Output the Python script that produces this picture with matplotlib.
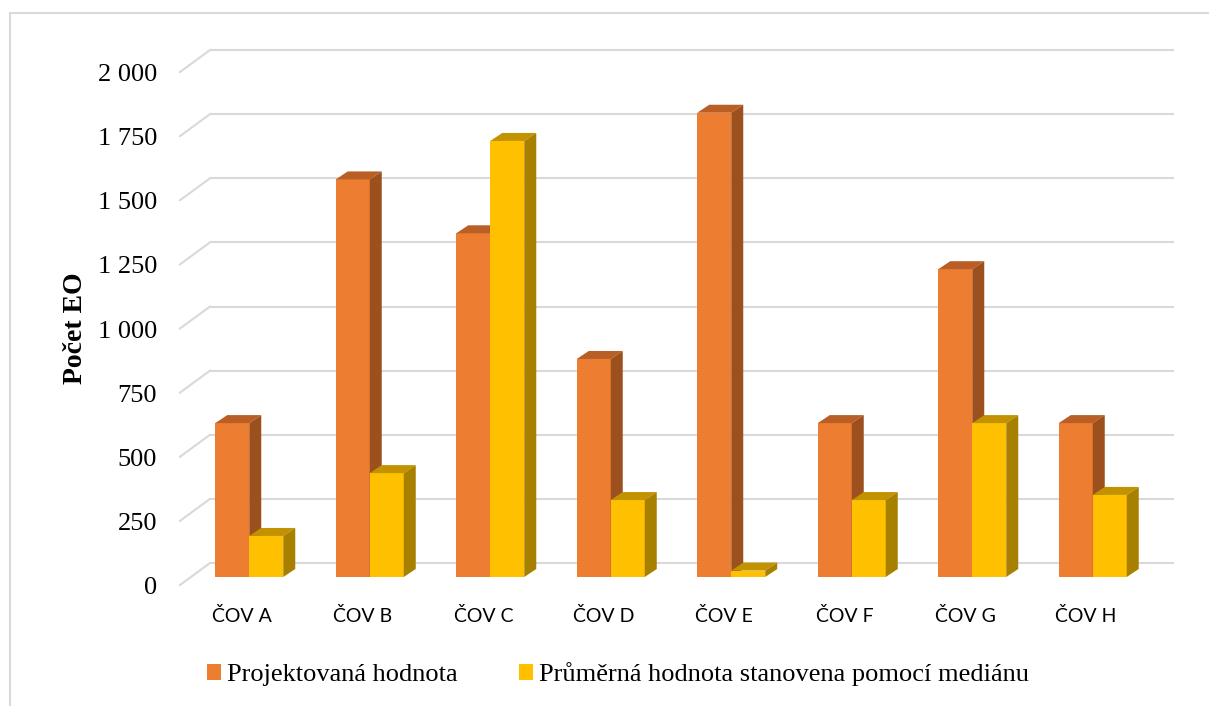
import matplotlib
matplotlib.use("Agg")
import matplotlib.pyplot as plt
from matplotlib.patches import Polygon, Rectangle, Patch

# Data
categories = ["ČOV A", "ČOV B", "ČOV C", "ČOV D", "ČOV E", "ČOV F", "ČOV G", "ČOV H"]
projected = [600, 1550, 1340, 850, 1810, 600, 1200, 600]
median_avg = [160, 405, 1700, 300, 25, 300, 600, 320]
series_names = ["Projektovaná hodnota", "Průměrná hodnota stanovena pomocí mediánu"]
y_ticks = [0, 250, 500, 750, 1000, 1250, 1500, 1750, 2000]
y_label = "Počet EO"

# Colours: front, top and side faces of each 3-D column
orange = ("#ED7D31", "#B95F26", "#9C501E")
yellow = ("#FFC000", "#C29200", "#A88000")
grid_col = "#D9D9D9"

SERIF = "Liberation Serif"
SANS = "Lato"

W_PX, H_PX = 1209, 706
fig = plt.figure(figsize=(W_PX / 100, H_PX / 100), dpi=100)

# plot area (front plane of the columns), in pixels
left_px, right_px, base_px, top_px = 189, 1153, 577, 64
ax = fig.add_axes([left_px / W_PX, (H_PX - base_px) / H_PX,
                   (right_px - left_px) / W_PX, (base_px - top_px) / H_PX])
ax.set_xlim(-0.5, len(categories) - 0.5)
ax.set_ylim(0, 2000)
ax.axis("off")

# pixel -> data unit conversion
ux = (len(categories)) / (right_px - left_px)
uy = 2000 / (base_px - top_px)

# depth offsets (pixels)
back_dx, back_dy = 21, 14      # back wall relative to column front plane
front_dx, front_dy = -9, -8    # front floor edge relative to column front plane
bar_dx, bar_dy = 12, 8         # column depth

x0 = -0.5
x1 = len(categories) - 0.5

# gridlines on the back wall and the left side wall
for v in y_ticks:
    ax.plot([x0 + back_dx * ux, x1 + back_dx * ux], [v + back_dy * uy] * 2,
            color=grid_col, lw=1.5, clip_on=False, zorder=1, solid_capstyle="butt")
    ax.plot([x0 + front_dx * ux, x0 + back_dx * ux],
            [v + front_dy * uy, v + back_dy * uy],
            color=grid_col, lw=1.5, clip_on=False, zorder=1)
    ax.text(x0 - 32 * ux, v + (front_dy - 3) * uy, f"{v:,}".replace(",", " "),
            ha="right", va="center", fontsize=19, family=SERIF, color="#000000")

bw = 34 * ux
ddx, ddy = bar_dx * ux, bar_dy * uy


def column(xl, h, cols, z):
    front, top, side = cols
    ax.add_patch(Rectangle((xl, 0), bw, h, facecolor=front, edgecolor="none",
                           zorder=z, clip_on=False))
    ax.add_patch(Polygon([(xl, h), (xl + bw, h), (xl + bw + ddx, h + ddy), (xl + ddx, h + ddy)],
                         closed=True, facecolor=top, edgecolor="none", zorder=z, clip_on=False))
    ax.add_patch(Polygon([(xl + bw, 0), (xl + bw + ddx, ddy), (xl + bw + ddx, h + ddy), (xl + bw, h)],
                         closed=True, facecolor=side, edgecolor="none", zorder=z, clip_on=False))


for i, (p, m) in enumerate(zip(projected, median_avg)):
    column(i - bw, p, orange, 3 + 2 * i)
    column(i, m, yellow, 4 + 2 * i)
    ax.text(i + (front_dx + 2) * ux, -39 * uy, categories[i], ha="center", va="center",
            fontsize=14, family=SANS, color="#000000")

# axis title
fig.text(75 / W_PX, 1 - 328 / H_PX, y_label, rotation=90, ha="center", va="center",
         fontsize=20, fontweight="bold", family=SERIF)

# legend
handles = [Patch(facecolor=orange[0]), Patch(facecolor=yellow[0])]
fig.legend(handles, series_names, loc="center", bbox_to_anchor=(618 / W_PX, 1 - 674 / H_PX),
           ncol=2, frameon=False, prop={"family": SERIF, "size": 19},
           handlelength=0.54, handleheight=0.54, handletextpad=0.24, columnspacing=2.3)

# chart frame
fig.patches.append(Rectangle((10 / W_PX, -0.2), 1.2, 1.2 - 13 / H_PX, transform=fig.transFigure,
                             facecolor="none", edgecolor=grid_col, lw=1.5))

fig.savefig("out.png", dpi=100)
